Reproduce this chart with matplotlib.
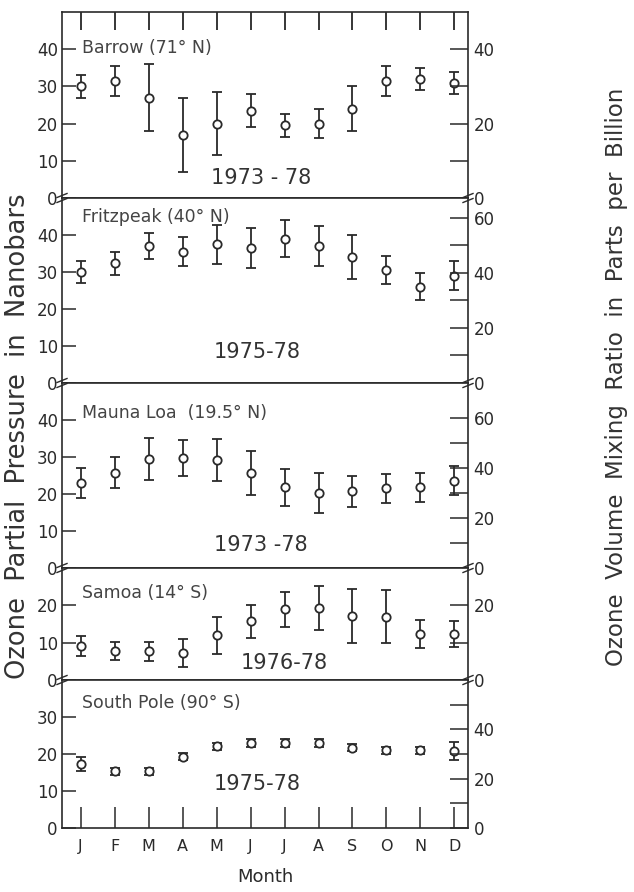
import matplotlib
matplotlib.use('Agg')
from matplotlib import pyplot as plt
from matplotlib.lines import Line2D

months = list(range(1, 13))
month_labels = ['J', 'F', 'M', 'A', 'M', 'J', 'J', 'A', 'S', 'O', 'N', 'D']

# monthly means and error bars, nanobars
barrow = [30, 31.5, 27, 17, 20, 23.5, 19.5, 20, 24, 31.5, 32, 31]
barrow_err = [3, 4, 9, 10, 8.5, 4.5, 3, 4, 6, 4, 3, 3]
fritz = [30, 32.3, 37, 35.5, 37.5, 36.5, 39, 37, 34, 30.5, 26, 29]
fritz_err = [3, 3.2, 3.5, 4, 5.3, 5.3, 5, 5.4, 6, 3.7, 3.7, 3.9]
mauna = [23, 25.8, 29.5, 29.8, 29.3, 25.7, 21.8, 20.4, 20.7, 21.5, 21.8, 23.6]
mauna_err = [4, 4.3, 5.7, 4.9, 5.7, 6, 5, 5.4, 4.3, 3.9, 4, 3.9]
samoa = [9.1, 7.8, 7.7, 7.3, 12, 15.7, 19, 19.3, 17.2, 17, 12.4, 12.3]
samoa_err = [2.6, 2.4, 2.5, 3.8, 5, 4.4, 4.7, 5.8, 7.2, 7.2, 3.7, 3.5]
spole = [17.2, 15.3, 15.3, 19.3, 22.1, 23, 23, 23, 21.7, 21, 21, 20.8]
spole_err = [1.9, 1.0, 1.0, 1.0, 1.0, 1.0, 1.0, 1.0, 0.9, 0.9, 1.0, 2.4]

names = ['Barrow (71° N)', 'Fritzpeak (40° N)', 'Mauna Loa  (19.5° N)',
         'Samoa (14° S)', 'South Pole (90° S)']
periods = ['1973 - 78', '1975-78', '1973 -78', '1976-78', '1975-78']
tops = [50, 50, 50, 30, 40]
# ppb per nanobar at each station (right axis)
ppb_factor = [1.0, 1.345, 1.48, 1.0, 1.5]
right_ticks = [[0, 10, 20, 30, 40], [0, 10, 20, 30, 40, 50, 60],
               [0, 10, 20, 30, 40, 50, 60], [0, 10, 20], [0, 10, 20, 30, 40, 50]]
name_y = [40.3, 44.9, 41.9, 23.2, 33.8]
period_pos = [(6.3, 5.5), (6.2, 8.4), (6.3, 6.2), (7.0, 4.5), (6.2, 12)]

series = [(barrow, barrow_err), (fritz, fritz_err), (mauna, mauna_err),
          (samoa, samoa_err), (spole, spole_err)]

ink = '#2a2a2a'
plt.rcParams['font.family'] = ['DejaVu Sans']

fig = plt.figure(figsize=(6.34, 8.92), dpi=100)
W, H = 634.0, 892.0
left_px, right_px = 62, 468
edges = [12, 198, 383, 568, 680, 828]

axes = []
for i in range(5):
    y0 = 1 - edges[i + 1] / H
    h = (edges[i + 1] - edges[i]) / H
    ax = fig.add_axes([left_px / W, y0, (right_px - left_px) / W, h])
    axes.append(ax)
    vals, errs = series[i]
    ax.errorbar(months, vals, yerr=errs, fmt='o', ms=6, mfc='white', mec=ink,
                mew=1.3, ecolor=ink, elinewidth=1.3, capsize=3.5, capthick=1.3)
    ax.set_xlim(0.45, 12.4)
    ax.set_ylim(0, tops[i])
    ax.set_yticks(range(0, tops[i], 10))
    ax.tick_params(axis='y', direction='in', length=10, width=1.1,
                   labelsize=12, colors=ink, pad=3)
    for s in ax.spines.values():
        s.set_color(ink)
        s.set_linewidth(1.2)
    if i == 0:
        ax.tick_params(axis='x', which='both', bottom=False, top=True,
                       direction='in', length=13, width=1.1, labelbottom=False)
        ax.set_xticks(months)
    elif i == 4:
        ax.set_xticks(months)
        ax.set_xticklabels(month_labels)
        ax.tick_params(axis='x', direction='in', length=15, width=1.1,
                       labelsize=11.5, colors=ink, pad=8)
        ax.set_xlabel('Month', fontsize=13, color=ink, labelpad=10)
    else:
        ax.set_xticks([])
    ax.text(1.05, name_y[i], names[i], fontsize=12.5, color='#444',
            va='center', ha='left')
    ax.text(period_pos[i][0], period_pos[i][1], periods[i], fontsize=15,
            color='#333', va='center', ha='center')

    rax = ax.twinx()
    rax.set_ylim(0, tops[i] * ppb_factor[i])
    rax.set_yticks(right_ticks[i])
    rax.set_yticklabels([str(t) if t % 20 == 0 else '' for t in right_ticks[i]])
    rax.tick_params(axis='y', direction='in', length=13, width=1.1,
                    labelsize=12, colors=ink, pad=4)
    for s in rax.spines.values():
        s.set_visible(False)

# break marks on the spines between panels
for yb in edges[1:5]:
    yf = 1 - yb / H
    for xp in (left_px, right_px):
        xf = xp / W
        for dy in (-2.5, 2.5):
            fig.add_artist(Line2D([xf - 5 / W, xf + 5 / W],
                                  [yf + (dy - 2) / H, yf + (dy + 2) / H],
                                  color=ink, lw=1.0))

fig.text(18 / W, 1 - 436 / H, 'Ozone  Partial  Pressure  in  Nanobars',
         rotation=90, fontsize=18.5, color='#333', ha='center', va='center')
fig.text(617 / W, 1 - 377 / H,
         'Ozone  Volume  Mixing  Ratio  in  Parts  per  Billion',
         rotation=90, fontsize=16.5, color='#333', ha='center', va='center')

fig.savefig('out.png', dpi=100)
